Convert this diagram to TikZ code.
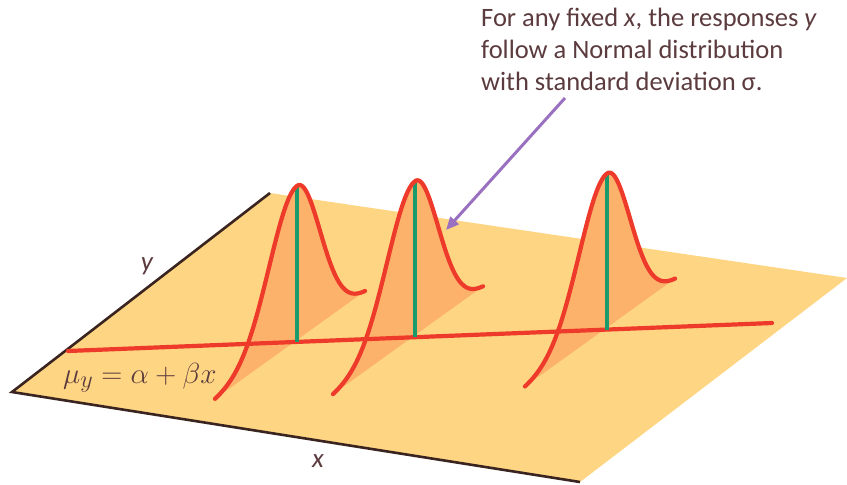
\documentclass[tikz,border=0pt]{standalone}
\usepackage{fontspec}
\setmainfont{Carlito}
\usetikzlibrary{arrows.meta,calc}
\definecolor{planecol}{HTML}{FED582}
\definecolor{shadecol}{HTML}{FDB26C}
\definecolor{curvered}{HTML}{EE3A2A}
\definecolor{meangreen}{HTML}{1B9B6B}
\definecolor{edgebrown}{HTML}{3A2420}
\definecolor{txtcol}{HTML}{5B3B3E}
\definecolor{arrowpurple}{HTML}{9A70C0}
\tikzset{
  planeedge/.style={draw=edgebrown, line width=2.6pt, line join=miter},
  redline/.style={draw=curvered, line width=4.2pt, line cap=round, line join=round},
  meanline/.style={draw=meangreen, line width=3.6pt},
  lbl/.style={text=txtcol, inner sep=0pt, font=\fontsize{27}{30}\selectfont},
  notearrow/.style={draw=arrowpurple, line width=3pt, -{Triangle[length=13pt,width=11pt]}},
}
\begin{document}
\begin{tikzpicture}[x=1pt,y=-1pt]
\useasboundingbox (0,0) rectangle (847,485);
% plane
\coordinate (pb) at (270,193);
\coordinate (pl) at (12,392);
\coordinate (pf) at (580,482);
\coordinate (pr) at (847,278);
\fill[planecol] (pb) -- (pl) -- (pf) -- (pr) -- cycle;
% shaded areas under the curves
\foreach \m/\n in {297/341.9, 415/337.2, 607/329.5}{
  \fill[shadecol] plot[domain=-2.93:0,samples=60] ({\m+28*\x},{\n-0.72*28*\x-156*exp(-(\x)^2/2)})
    -- plot[domain=0:2.96,samples=60] ({\m+23*\x},{\n-0.72*23*\x-156*exp(-(\x)^2/2)}) -- cycle;
}
\draw[planeedge] (pb) -- (pl) -- (pf);
% regression line
\coordinate (r1) at (68,351);
\coordinate (r2) at (772,323);
\draw[redline] (r1) -- (r2);
% mean lines and curves
\foreach \m/\n [count=\i] in {297/341.9, 415/337.2, 607/329.5}{
  \coordinate (base\i) at (\m,\n);
  \coordinate (peak\i) at (\m,\n-156);
  \draw[meanline] (base\i) -- (peak\i);
  \draw[redline] plot[domain=-2.93:0,samples=60] ({\m+28*\x},{\n-0.72*28*\x-156*exp(-(\x)^2/2)})
    -- plot[domain=0:2.96,samples=60] ({\m+23*\x},{\n-0.72*23*\x-156*exp(-(\x)^2/2)});
}
% labels
\node[lbl] (ylab) at (147,266) {\itshape y};
\node[lbl] (xlab) at (318,461) {\itshape x};
\node[text=txtcol, inner sep=0pt, anchor=west] (eq) at (63,378)
  {\scalebox{1.17}{\fontsize{24.88}{30}\selectfont$\mu_y = \alpha + \beta x$}};
% note
\node[anchor=north west, align=left, inner sep=0pt, text=txtcol,
      font=\fontsize{26.5}{32}\selectfont] (note) at (481,8)
  {For any fixed \textit{x}, the responses \textit{y}\\ follow a Normal distribution\\ with standard deviation σ.};
\coordinate (atail) at (565,98);
\coordinate (ahead) at (446,230);
\draw[notearrow] (atail) -- (ahead);
\end{tikzpicture}
\end{document}
